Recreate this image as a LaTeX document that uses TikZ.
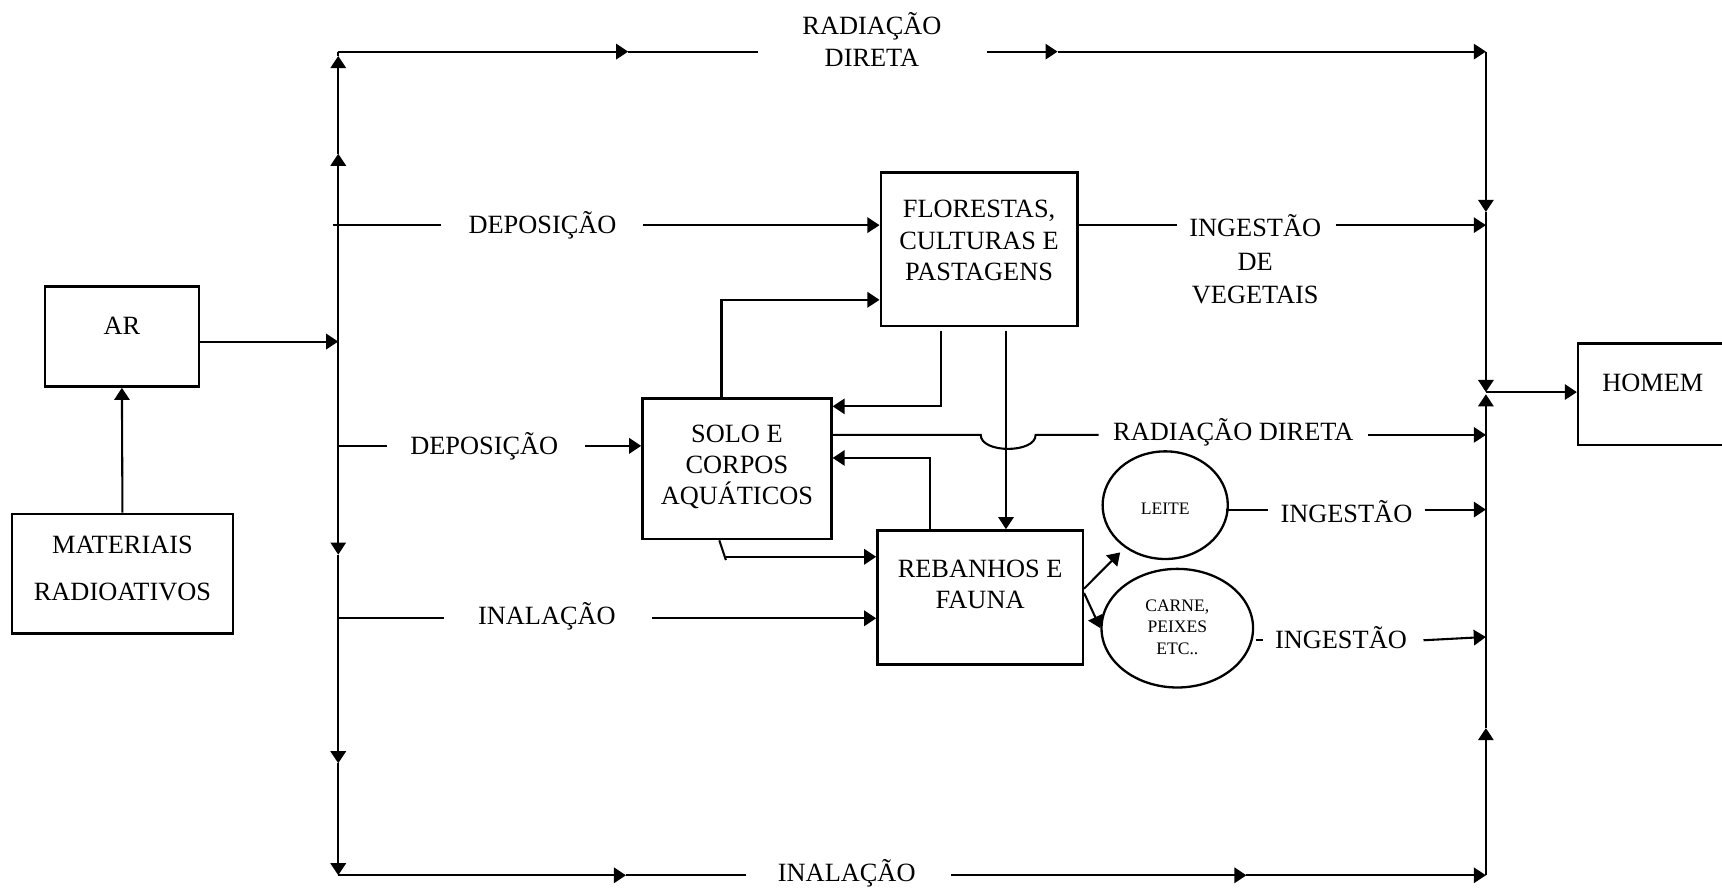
\documentclass[tikz,border=0pt]{standalone}
\usepackage{fontspec}
\setmainfont{Liberation Serif}
\usetikzlibrary{arrows.meta,calc,shapes.geometric}
\begin{document}
\begin{tikzpicture}[x=1pt,y=-1pt,
  ln/.style={line width=1.9pt},
  ar/.style={line width=1.9pt,-{Triangle[length=11pt,width=14pt]}},
  box/.style={draw,line width=2.3pt,inner sep=0pt},
  ell/.style={draw,ellipse,line width=2.1pt,inner sep=0pt},
  lbl/.style={font=\fontsize{24}{29}\selectfont,align=center,inner sep=0pt},
  sm/.style={font=\fontsize{16}{19.5}\selectfont,align=center,inner sep=0pt}]
\useasboundingbox (0,0) rectangle (1568,810);

% boxes
\node[box,minimum width=140pt,minimum height=91pt] (ar) at (111,306.5)
  {}; \node[lbl] (ar-t) at (111,297) {AR};
\node[box,minimum width=201pt,minimum height=109pt] (mat) at (111.5,522.5) {};
\node[lbl,font=\fontsize{24}{43}\selectfont] (mat-t) at (111.5,517.5) {MATERIAIS\\RADIOATIVOS};
\node[box,minimum width=179pt,minimum height=140pt] (flor) at (891.5,227) {};
\node[lbl] (flor-t) at (891.5,219) {FLORESTAS,\\CULTURAS E\\PASTAGENS};
\node[box,minimum width=172pt,minimum height=128pt] (solo) at (671,427) {};
\node[lbl,font=\fontsize{24}{28}\selectfont] (solo-t) at (671,425) {SOLO E\\CORPOS\\AQUÁTICOS};
\node[box,minimum width=187pt,minimum height=122pt] (reb) at (892.5,544) {};
\node[lbl,font=\fontsize{24}{28}\selectfont] (reb-t) at (892.5,532) {REBANHOS E\\FAUNA};
\node[box,minimum width=135pt,minimum height=92pt] (homem) at (1504.5,359) {};
\node[lbl] (homem-t) at (1505,349) {HOMEM};
\node[ell,minimum width=114pt,minimum height=98pt] (leite) at (1061,460) {};
\node[sm] (leite-t) at (1061,463) {LEITE};
\node[ell,minimum width=138pt,minimum height=108pt] (carne) at (1072,572) {};
\node[sm] (carne-t) at (1072,571) {CARNE,\\PEIXES\\ETC..};

% labels on lines
\node[lbl] (t-rd1) at (794,36) {RADIAÇÃO\\DIRETA};
\node[lbl] (t-dep1) at (494,205) {DEPOSIÇÃO};
\node[lbl,font=\fontsize{24}{30.5}\selectfont] (t-ing1) at (1143,236) {INGESTÃO\\DE\\VEGETAIS};
\node[lbl] (t-dep2) at (441,406) {DEPOSIÇÃO};
\node[lbl] (t-rd2) at (1123,394) {RADIAÇÃO DIRETA};
\node[lbl] (t-ing2) at (1226,466) {INGESTÃO};
\node[lbl] (t-ing3) at (1221,581) {INGESTÃO};
\node[lbl] (t-inal1) at (498,561) {INALAÇÃO};
\node[lbl] (t-inal2) at (771,795) {INALAÇÃO};

% bus coordinates
\coordinate (LT) at (308,47);
\coordinate (LB) at (308,797);
\coordinate (RT) at (1353,47);
\coordinate (RB) at (1353,797);
\coordinate (Lar) at (308,311);
\coordinate (Lu1) at (308,140);
\coordinate (Lu2) at (308,51);
\coordinate (Ld1) at (308,505);
\coordinate (Ld2) at (308,695);
\coordinate (Rd1) at (1353,193);
\coordinate (Rm) at (1353,357);
\coordinate (Rmu) at (1353,359);
\coordinate (Ru1) at (1353,663);
\coordinate (T1) at (572,47);
\coordinate (T2) at (963,47);
\coordinate (B1) at (570,797);
\coordinate (B2) at (1135,797);
\coordinate (Ldep1) at (303,205);
\coordinate (Ldep2) at (308,406);
\coordinate (Linal) at (308,563);
\coordinate (Ring1) at (1353,205);
\coordinate (Rrd) at (1353,396);
\coordinate (Ring2) at (1353,464);
\coordinate (Ring3) at (1353,580);
\coordinate (hopL) at (893,396);
\coordinate (hopR) at (943,396);
\coordinate (fv) at (916,301);
\coordinate (fs) at (857,301);
\coordinate (y370) at (0,370);
\coordinate (a657) at (657,273);
\coordinate (a847) at (847,417);
\coordinate (a655) at (655,492);
\coordinate (a661) at (661,507);
\coordinate (lt) at (1020,503);
\coordinate (b536) at (0,536);
\coordinate (b540) at (0,540);

% left bus
\draw[ar] (Lar) -- (Lu1);
\draw[ar] (Lu1) -- (Lu2);
\draw[ln] (Lu2) -- (LT);
\draw[ar] (Lar) -- (Ld1);
\draw[ar] (Ld1) -- (Ld2);
\draw[ar] (Ld2) -- (LB);

% right bus
\draw[ar] (RT) -- (Rd1);
\draw[ar] (Rd1) -- (Rm);
\draw[ar] (RB) -- (Ru1);
\draw[ar] (Ru1) -- (Rmu);
\draw[ar] (Rm) -- (homem.west|-Rm);

% top line
\draw[ar] (LT) -- (T1);
\draw[ln] (T1) -- ($(t-rd1.west|-LT)+(-40,0)$);
\draw[ar] ($(t-rd1.east|-LT)+(41,0)$) -- (T2);
\draw[ar] (T2) -- (RT);

% bottom line
\draw[ar] (LB) -- (B1);
\draw[ln] (B1) -- ($(t-inal2.west|-LB)+(-29,0)$);
\draw[ar] ($(t-inal2.east|-LB)+(32,0)$) -- (B2);
\draw[ar] (B2) -- (RB);

% sources
\draw[ar] (mat.north) -- (ar.south);
\draw[ar] (ar.east|-Lar) -- (Lar);

% deposition / inhalation
\draw[ln] (Ldep1) -- ($(t-dep1.west)+(-25,0)$);
\draw[ar] ($(t-dep1.east)+(24,0)$) -- (flor.west|-t-dep1);
\draw[ln] (Ldep2) -- ($(t-dep2.west)+(-21,0)$);
\draw[ar] ($(t-dep2.east)+(24,0)$) -- (solo.west|-t-dep2);
\draw[ln] (Linal) -- ($(t-inal1.west|-Linal)+(-31,0)$);
\draw[ar] ($(t-inal1.east|-Linal)+(33,0)$) -- (reb.west|-Linal);

% ingestion of vegetables
\draw[ln] (flor.east|-Ring1) -- ($(t-ing1.west|-Ring1)+(-11,0)$);
\draw[ar] ($(t-ing1.east|-Ring1)+(13,0)$) -- (Ring1);

% direct radiation from soil with hop
\draw[ln] (solo.east|-Rrd) -- (hopL) .. controls +(0,17) and +(0,17) .. (hopR)
  -- ($(t-rd2.west|-Rrd)+(-13,0)$);
\draw[ar] ($(t-rd2.east|-Rrd)+(13,0)$) -- (Rrd);

% internal flows
\draw[ar] (fv) -- (fv|-reb.north);
\draw[ar] (fs) |- (solo.east|-y370);
\draw[ar] (a657|-solo.north) |- (flor.west|-a657);
\draw[ar] (a847|-reb.north) |- (solo.east|-a847);
\draw[ln] (a655) -- ($(a661)+(0,3)$);
\draw[ar] (a661) -- (reb.west|-a661);
\draw[ar] (reb.east|-b536) -- (lt);
\draw[ar] (reb.east|-b540) -- (carne.west);

% milk / meat ingestion
\draw[ln] ($(leite.east|-Ring2)+(-3,0)$) -- ($(t-ing2.west|-Ring2)+(-11,0)$);
\draw[ar] ($(t-ing2.east|-Ring2)+(11,0)$) -- (Ring2);
\draw[ln] ($(carne.east)+(2,11)$) -- ($(t-ing3.west)+(-11,2)$);
\draw[ar] ($(t-ing3.east)+(15,2)$) -- (Ring3);
\end{tikzpicture}
\end{document}
